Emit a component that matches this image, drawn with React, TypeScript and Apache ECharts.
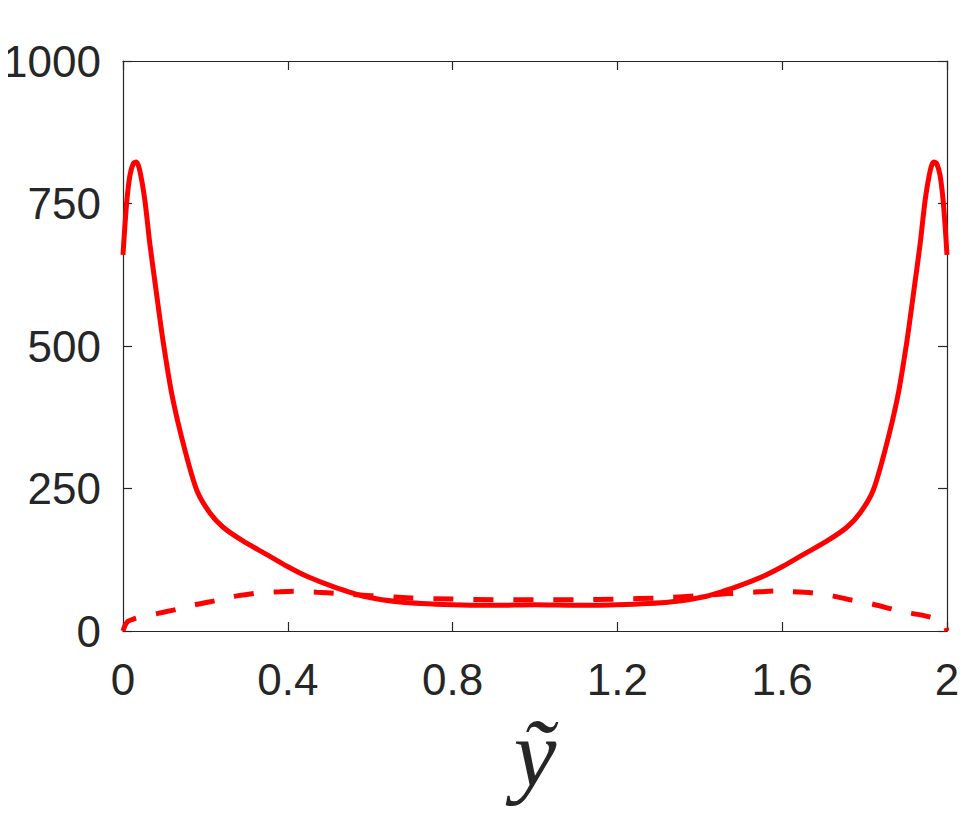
import React, { useEffect, useRef } from "react";
import * as echarts from "echarts";

const xTicks = [0, 0.4, 0.8, 1.2, 1.6, 2];
const yTicks = [0, 250, 500, 750, 1000];
const xLabel = "ỹ";

const solidX = [0, 0.005, 0.01, 0.017, 0.025, 0.032, 0.04, 0.053, 0.065, 0.078, 0.097, 0.12, 0.15, 0.179, 0.211, 0.243, 0.291, 0.349, 0.397, 0.446, 0.51, 0.59, 0.672, 0.8, 0.9, 1.0, 1.1, 1.2, 1.328, 1.41, 1.49, 1.554, 1.603, 1.651, 1.709, 1.757, 1.789, 1.821, 1.85, 1.88, 1.903, 1.922, 1.935, 1.947, 1.96, 1.968, 1.975, 1.983, 1.99, 1.995, 2.0];
const solidY = [660, 715, 760, 800, 820, 823, 810, 756, 680, 610, 510, 410, 318, 247, 207, 182, 158, 134, 114, 96, 78, 60, 51, 46, 45, 46, 45, 46, 51, 60, 78, 96, 114, 134, 158, 182, 207, 247, 318, 410, 510, 610, 680, 756, 810, 823, 820, 800, 760, 715, 660];

const dashX = [0, 0.005, 0.012, 0.025, 0.05, 0.085, 0.13, 0.18, 0.23, 0.28, 0.33, 0.38, 0.42, 0.47, 0.52, 0.6, 0.7, 0.8, 0.9, 1.0, 1.1, 1.2, 1.3, 1.4, 1.48, 1.53, 1.58, 1.62, 1.67, 1.72, 1.77, 1.82, 1.87, 1.915, 1.95, 1.975, 1.988, 1.995, 2.0];
const dashY = [0, 10, 17, 21, 26, 31, 38, 47, 54, 62, 67, 69, 70, 68, 66, 62, 58, 56, 55, 55, 55, 56, 58, 62, 66, 68, 70, 69, 67, 62, 54, 47, 38, 31, 26, 21, 17, 10, 0];

const axisColor = "#262626";
const labelFont = {
  color: axisColor,
  fontSize: 44,
  fontFamily: "Liberation Sans, Arial, sans-serif",
};

export default function App() {
  const ref = useRef<HTMLDivElement>(null);
  useEffect(() => {
    if (!ref.current) return;
    const chart = echarts.init(ref.current, null, { renderer: "svg" });
    const lineAxis = { show: true, onZero: false, lineStyle: { color: axisColor, width: 1.2 } };
    const tick = { show: true, inside: true, length: 9, lineStyle: { color: axisColor, width: 1.2 } };
    chart.setOption({
      animation: false,
      backgroundColor: "#ffffff",
      grid: { left: 123, right: 23, top: 61, bottom: 194, containLabel: false, outerBoundsMode: "none" },
      xAxis: [
        {
          type: "value",
          min: 0,
          max: 2,
          interval: 0.4,
          position: "bottom",
          axisLine: lineAxis,
          axisTick: tick,
          splitLine: { show: false },
          axisLabel: {
            ...labelFont,
            margin: 26,
            formatter: (v: number) => {
              const hit = xTicks.find((t) => Math.abs(t - v) < 1e-6);
              return String(hit !== undefined ? hit : v);
            },
          },
          name: xLabel,
          nameLocation: "middle",
          nameGap: 64,
          nameTextStyle: {
            fontSize: 96,
            fontStyle: "italic",
            fontFamily: "Liberation Serif, DejaVu Serif, serif",
            color: axisColor,
          },
        },
        {
          type: "value",
          min: 0,
          max: 2,
          interval: 0.4,
          position: "top",
          axisLine: lineAxis,
          axisTick: tick,
          splitLine: { show: false },
          axisLabel: { show: false },
        },
      ],
      yAxis: [
        {
          type: "value",
          min: 0,
          max: 1000,
          interval: 250,
          position: "left",
          axisLine: lineAxis,
          axisTick: tick,
          splitLine: { show: false },
          axisLabel: {
            ...labelFont,
            margin: 22,
            formatter: (v: number) => {
              const hit = yTicks.find((t) => Math.abs(t - v) < 1e-6);
              return String(hit !== undefined ? hit : v);
            },
          },
        },
        {
          type: "value",
          min: 0,
          max: 1000,
          interval: 250,
          position: "right",
          axisLine: lineAxis,
          axisTick: tick,
          splitLine: { show: false },
          axisLabel: { show: false },
        },
      ],
      series: [
        {
          type: "line",
          data: solidX.map((x, i) => [x, solidY[i]]),
          showSymbol: false,
          smooth: 0.25,
          lineStyle: { color: "#ff0000", width: 5 },
          clip: true,
        },
        {
          type: "line",
          data: dashX.map((x, i) => [x, dashY[i]]),
          showSymbol: false,
          smooth: 0.25,
          lineStyle: { color: "#ff0000", width: 5, type: [20, 20] },
          clip: true,
        },
      ],
    });
    return () => chart.dispose();
  }, []);
  return <div ref={ref} style={{ width: 970, height: 825, margin: -8 }} />;
}
